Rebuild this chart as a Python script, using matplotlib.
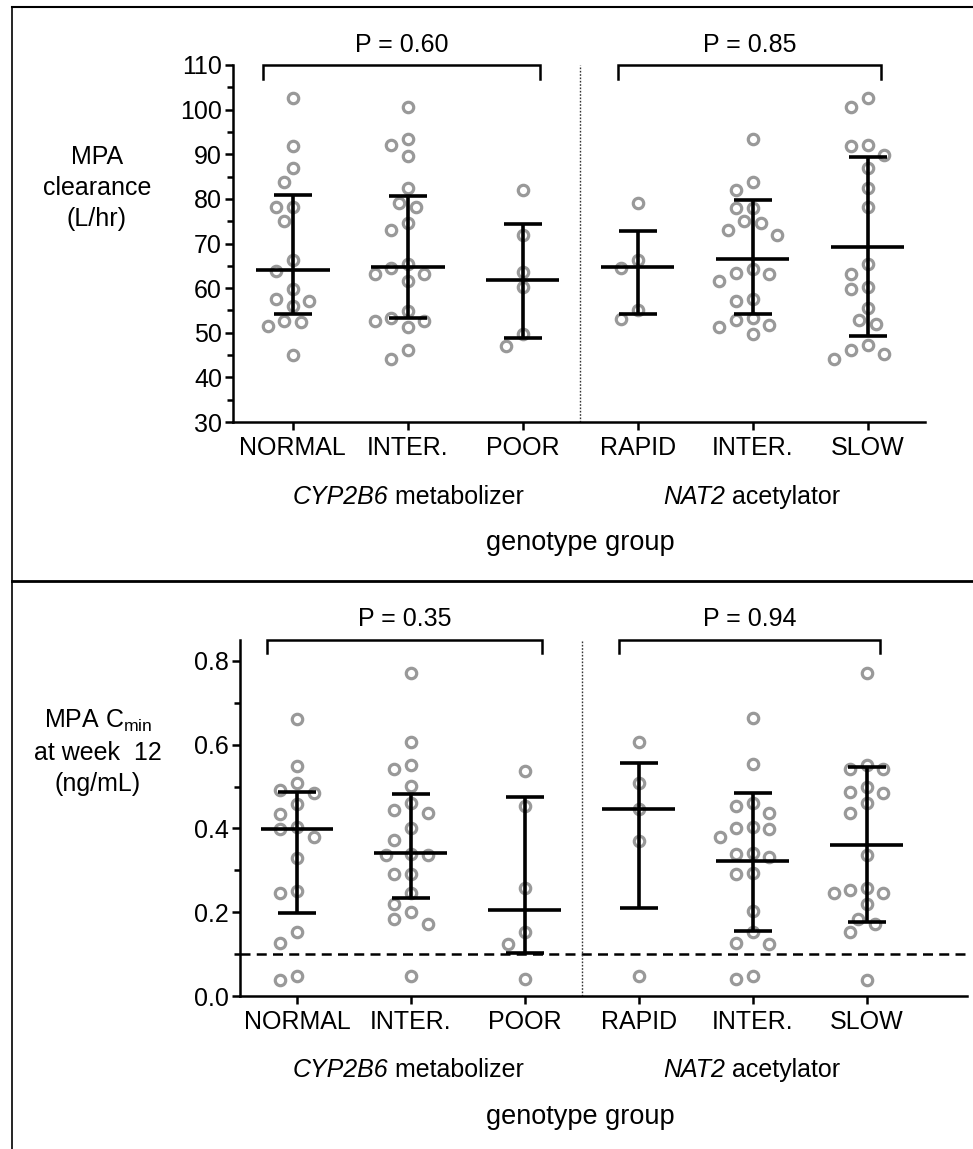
import numpy as np
import matplotlib
matplotlib.use('Agg')
import matplotlib.pyplot as plt
from matplotlib.lines import Line2D

plt.rcParams['font.family'] = ['Liberation Sans', 'DejaVu Sans']
plt.rcParams['mathtext.fontset'] = 'custom'
plt.rcParams['mathtext.rm'] = 'Liberation Sans'
plt.rcParams['mathtext.it'] = 'Liberation Sans:italic'

groups = ['NORMAL', 'INTER.', 'POOR', 'RAPID', 'INTER.', 'SLOW']

# MPA clearance (L/hr) per genotype group
clear_normal = [102.6, 91.9, 86.9, 83.7, 78.2, 78.2, 75.0, 66.4, 63.8, 59.7,
                57.5, 57.1, 55.9, 52.4, 52.6, 51.5, 45.0]
clear_inter = [100.5, 93.5, 92.0, 89.5, 82.4, 79.1, 78.2, 74.5, 73.1, 65.5,
               64.6, 63.1, 63.1, 61.6, 53.4, 52.7, 52.7, 54.9, 51.2, 46.2, 44.2]
clear_poor = [81.9, 71.8, 63.6, 60.2, 49.7, 47.1]
clear_rapid = [79.1, 66.4, 64.6, 55.1, 53.0]
clear_inter2 = [93.4, 83.7, 82.1, 78.0, 78.0, 75.0, 74.6, 73.0, 71.9, 63.4,
                63.1, 64.2, 61.6, 57.5, 57.1, 53.2, 51.7, 49.7, 51.3, 52.8]
clear_slow = [100.5, 102.7, 92.0, 91.9, 89.9, 86.9, 82.4, 78.2, 65.3, 63.1,
              59.7, 60.2, 55.6, 52.8, 52.0, 46.1, 44.2, 45.2, 47.2]
clear_mid = [64.0, 64.8, 61.8, 64.7, 66.6, 69.2]
clear_low = [54.1, 53.4, 48.9, 54.1, 54.1, 49.3]
clear_high = [80.9, 80.6, 74.4, 72.8, 79.7, 89.3]
clear_p = ['P = 0.60', 'P = 0.85']

# MPA Cmin at week 12 (ng/mL) per genotype group
cmin_normal = [0.661, 0.549, 0.508, 0.492, 0.485, 0.458, 0.434, 0.404, 0.398,
               0.380, 0.329, 0.247, 0.251, 0.153, 0.127, 0.038, 0.048]
cmin_inter = [0.772, 0.607, 0.542, 0.551, 0.501, 0.461, 0.444, 0.437, 0.400,
              0.372, 0.338, 0.337, 0.337, 0.291, 0.291, 0.247, 0.220, 0.201,
              0.183, 0.172, 0.048]
cmin_poor = [0.538, 0.453, 0.257, 0.153, 0.124, 0.040]
cmin_rapid = [0.607, 0.509, 0.446, 0.371, 0.048]
cmin_inter2 = [0.663, 0.553, 0.461, 0.453, 0.437, 0.403, 0.399, 0.400, 0.379,
               0.339, 0.341, 0.331, 0.293, 0.291, 0.204, 0.153, 0.127, 0.124,
               0.040, 0.048]
cmin_slow = [0.772, 0.551, 0.541, 0.543, 0.488, 0.485, 0.500, 0.460, 0.438,
             0.337, 0.257, 0.247, 0.247, 0.253, 0.220, 0.185, 0.172, 0.153, 0.038]
cmin_mid = [0.398, 0.341, 0.205, 0.446, 0.323, 0.360]
cmin_low = [0.197, 0.233, 0.102, 0.209, 0.156, 0.177]
cmin_high = [0.488, 0.482, 0.474, 0.557, 0.485, 0.547]
cmin_p = ['P = 0.35', 'P = 0.94']
lloq = 0.1

W, H = 973, 1149
FS = 18
fig = plt.figure(figsize=(W / 100, H / 100), dpi=100)


def fx(px):
    return px / W


def fy(py):
    return 1 - py / H


def swarm(ax, x0, vals, step=8.3, diam=15):
    # simple beeswarm: shift points sideways until they don't overlap
    tr = ax.transData
    placed = []
    xs = np.zeros(len(vals))
    for i in np.argsort(vals)[::-1]:
        px, py = tr.transform((x0, vals[i]))
        for k in [0, -1, 1, -2, 2, -3, 3, -4, 4, -5, 5]:
            cx = px + k * step
            if all(np.hypot(cx - qx, py - qy) >= diam for qx, qy in placed):
                break
        placed.append((cx, py))
        xs[i] = tr.inverted().transform((cx, py))[0]
    return xs


def draw_panel(ax, data, mid, low, high, ptexts, ylim, yticks, minor, ymark):
    ax.set_ylim(*ylim)
    ax.set_yticks(yticks)
    ax.set_yticks(minor, minor=True)
    ax.set_xticks(range(6))
    ax.set_xticklabels(groups, fontsize=FS)
    ax.tick_params(axis='y', labelsize=FS, width=1.8, length=6, pad=2)
    ax.tick_params(axis='y', which='minor', width=1.8, length=4)
    ax.tick_params(axis='x', width=1.8, length=6, pad=4)
    for s in ['top', 'right']:
        ax.spines[s].set_visible(False)
    for s in ['left', 'bottom']:
        ax.spines[s].set_linewidth(1.8)

    for i, vals in enumerate(data):
        xs = swarm(ax, i, vals)
        ax.plot(xs, vals, 'o', ms=7.5, mfc='white', mec='#999999', mew=2.3,
                zorder=2, clip_on=False)
        ax.errorbar(i, mid[i], yerr=[[mid[i] - low[i]], [high[i] - mid[i]]],
                    fmt='none', ecolor='black', elinewidth=2.6, capsize=14,
                    capthick=2.6, zorder=3)
        ax.hlines(mid[i], i - 0.32, i + 0.32, color='black', lw=2.6, zorder=3)

    ax.axvline(2.5, color='#333333', lw=1.0, ls=(0, (1.2, 1.2)))

    top = ylim[1]
    drop = (ylim[1] - ylim[0]) * ymark[0]
    for (a, b), txt in zip([(-0.26, 2.15), (2.83, 5.12)], ptexts):
        ax.plot([a, a, b, b], [top - drop, top, top, top - drop], color='black',
                lw=1.8, clip_on=False, solid_joinstyle='miter')
        ax.text((a + b) / 2, top + (ylim[1] - ylim[0]) * ymark[1], txt,
                ha='center', va='center', fontsize=FS)


def mixed_label(xc, yc, italic, rest):
    # italic gene name followed by plain text, centred as a whole at (xc, yc)
    r = fig.canvas.get_renderer()
    t1 = fig.text(0, fy(yc), italic, style='italic', fontsize=FS, va='center')
    t2 = fig.text(0, fy(yc), ' ' + rest, fontsize=FS, va='center')
    w1 = t1.get_window_extent(r).width
    w2 = t2.get_window_extent(r).width
    x0 = xc - (w1 + w2) / 2
    t1.set_x(fx(x0))
    t2.set_x(fx(x0 + w1))


# top panel: clearance
ax1 = fig.add_axes([fx(233), fy(422), fx(925 - 233), (422 - 65) / H])
ax1.set_xlim(-0.52, 5.50)
draw_panel(ax1, [clear_normal, clear_inter, clear_poor, clear_rapid, clear_inter2, clear_slow],
           clear_mid, clear_low, clear_high, clear_p,
           (30, 110), range(30, 111, 10), range(35, 110, 10), (0.039, 0.056))

# bottom panel: Cmin
ax2 = fig.add_axes([fx(240), fy(996), fx(967 - 240), (996 - 640) / H])
ax2.set_xlim(-0.5, 5.88)
draw_panel(ax2, [cmin_normal, cmin_inter, cmin_poor, cmin_rapid, cmin_inter2, cmin_slow],
           cmin_mid, cmin_low, cmin_high, cmin_p,
           (0, 0.85), [0.0, 0.2, 0.4, 0.6, 0.8], [0.1, 0.3, 0.5, 0.7], (0.037, 0.06))
ax2.yaxis.set_major_formatter(matplotlib.ticker.FormatStrFormatter('%.1f'))
ax2.axhline(lloq, color='black', lw=1.8, ls=(0, (4, 2.5)), zorder=1, clip_on=False)

# axis titles
fig.text(fx(97), fy(188), 'MPA\nclearance\n(L/hr)', ha='center', va='center',
         fontsize=FS, linespacing=1.35)
fig.text(fx(98), fy(752), 'MPA C$_{\\mathregular{min}}$\nat week  12\n(ng/mL)',
         ha='center', va='center', fontsize=FS, linespacing=1.35)
for yy in (497, 1070):
    mixed_label(408, yy, 'CYP2B6', 'metabolizer')
    mixed_label(752, yy, 'NAT2', 'acetylator')
for yy in (543, 1117):
    fig.text(fx(580), fy(yy), 'genotype group', ha='center', va='center', fontsize=19.5)

# frame lines
fig.add_artist(Line2D([fx(12), 1], [fy(7), fy(7)], color='black', lw=1.5))
fig.add_artist(Line2D([fx(12), fx(12)], [fy(7), 0], color='black', lw=1.2))
fig.add_artist(Line2D([fx(12), 1], [fy(581), fy(581)], color='black', lw=2.0))

fig.savefig('out.png', dpi=100)
